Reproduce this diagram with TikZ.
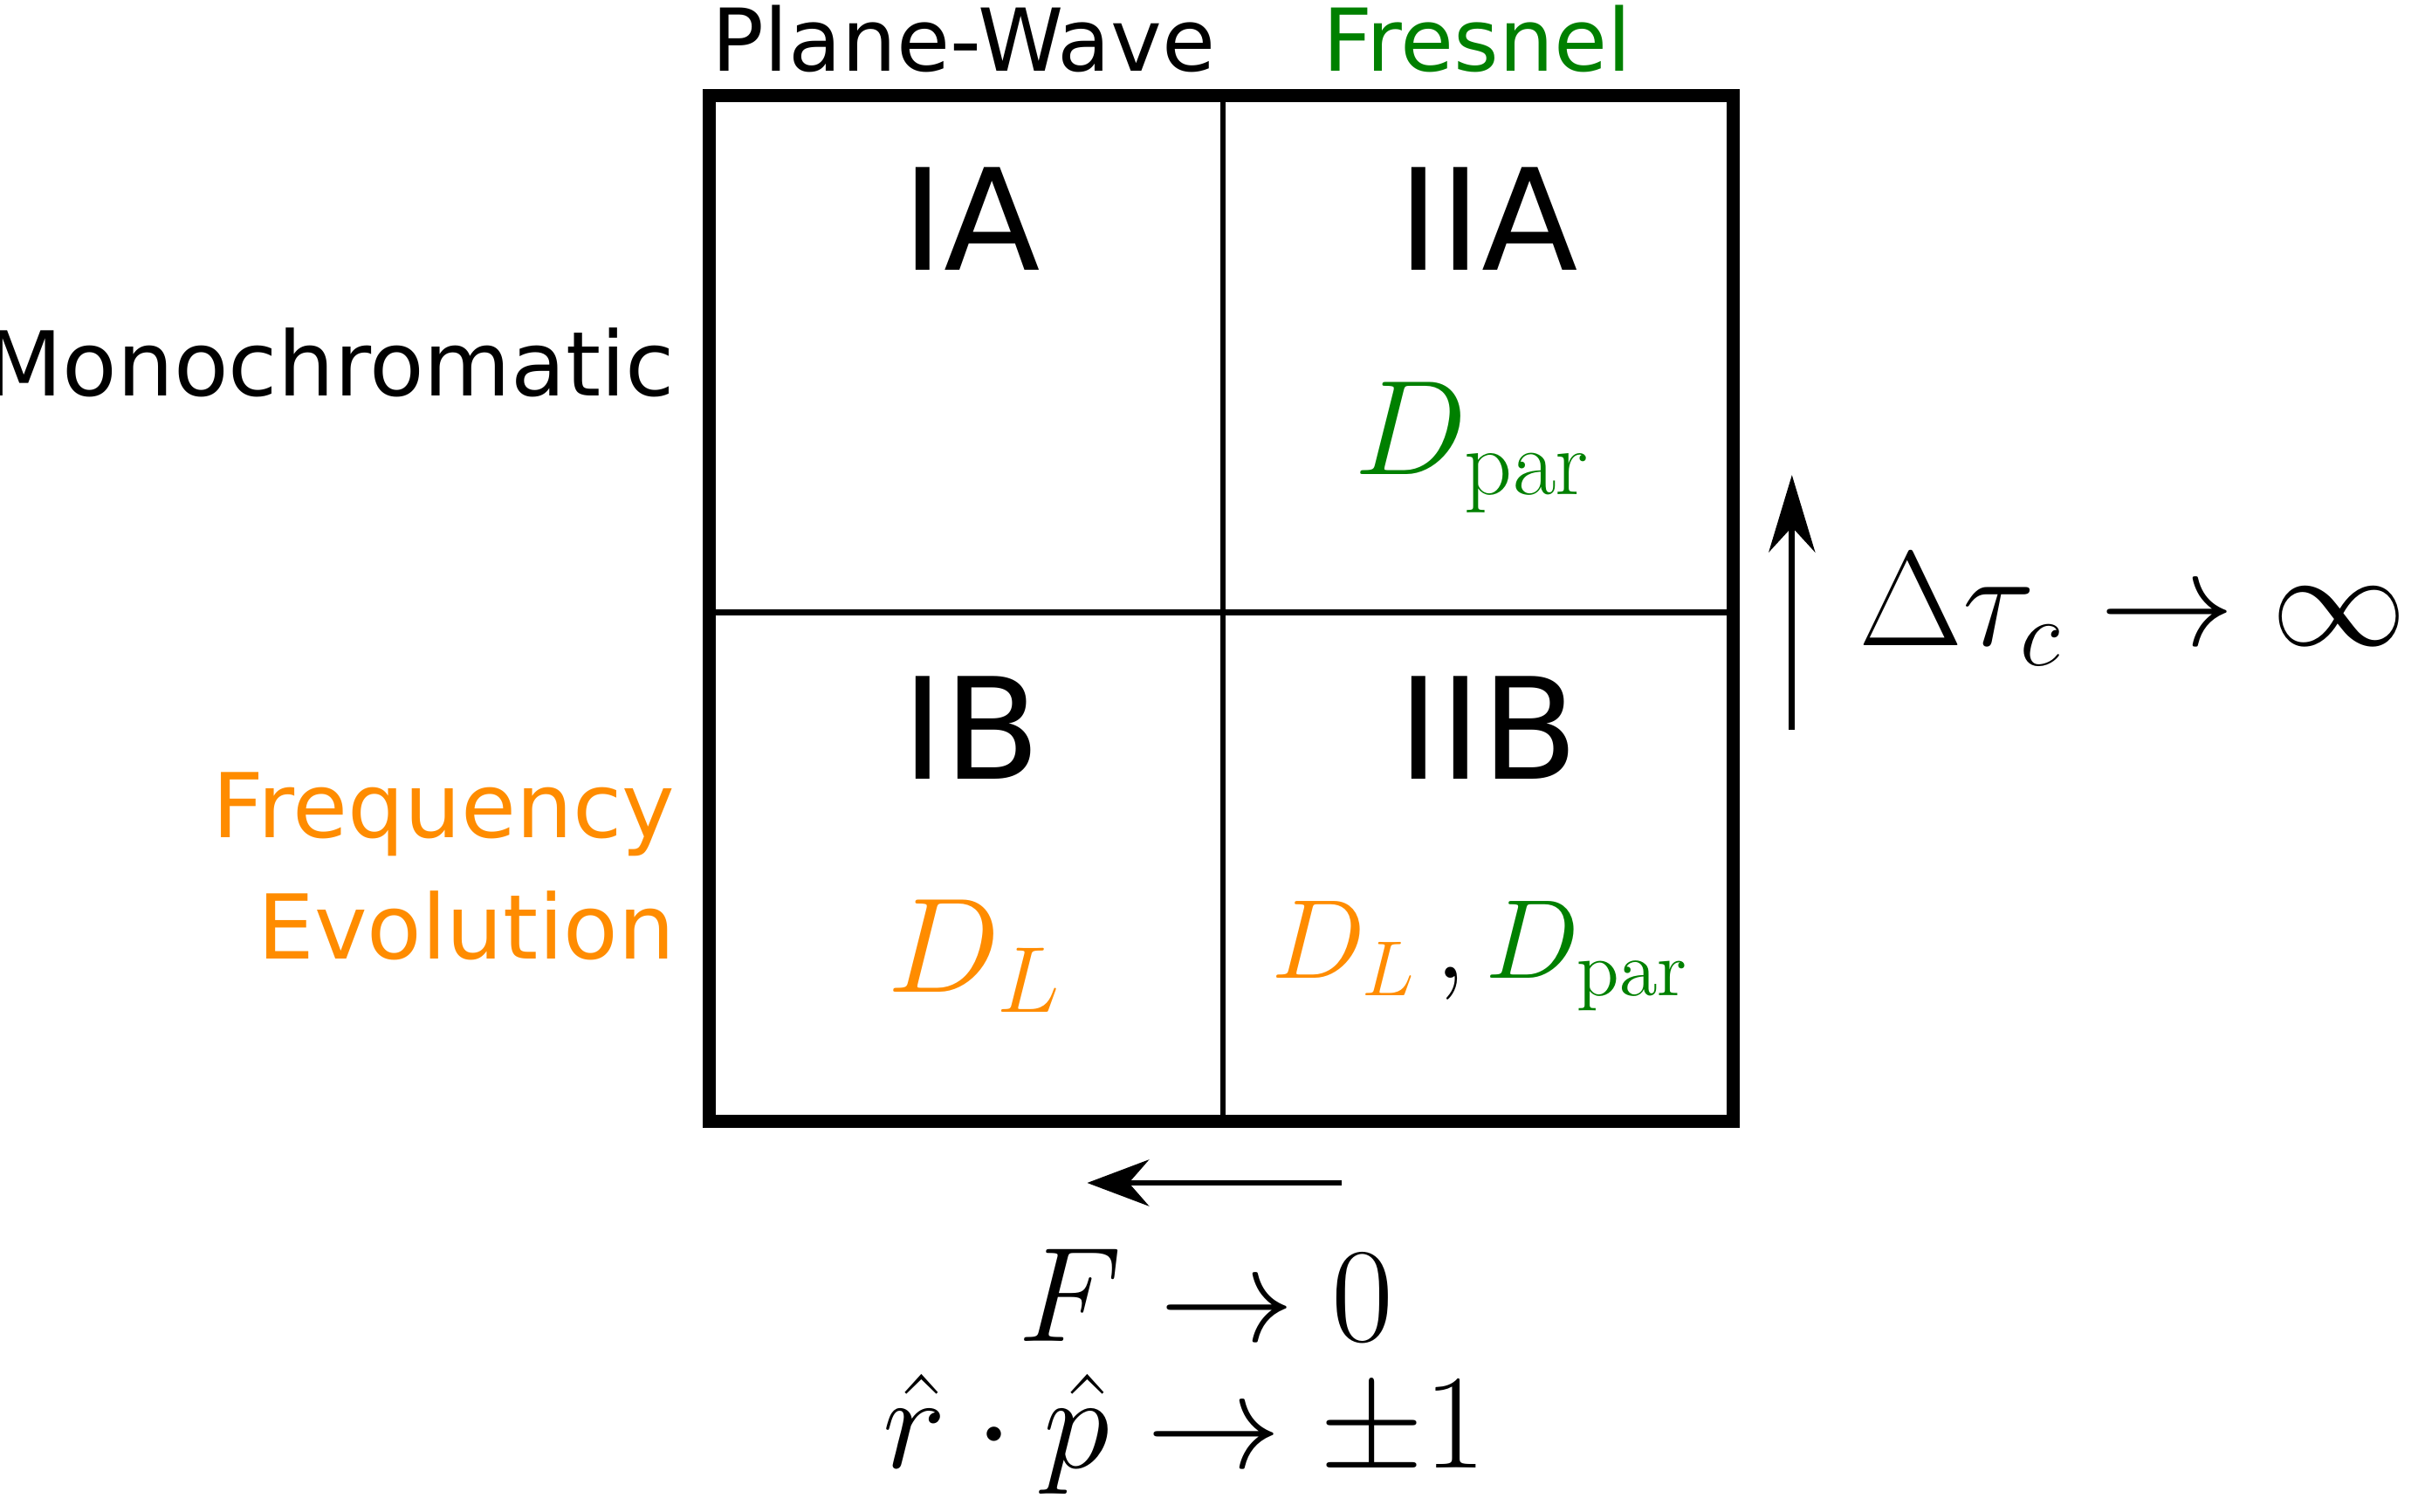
\documentclass[tikz,border=0pt]{standalone}
\usepackage[no-math]{fontspec}
\setmainfont{DejaVu Sans}
\usetikzlibrary{arrows.meta}
\definecolor{fresgreen}{RGB}{0,128,0}
\definecolor{freqorange}{RGB}{255,140,0}
\begin{document}
\begin{tikzpicture}[x=1cm,y=1cm]
		\useasboundingbox (0,0) rectangle (15.68,9.80);
		% Grid
		\draw[line width=1.1pt] (7.93,9.18) -- (7.93,2.53);
		\draw[line width=1.1pt] (4.60,5.83) -- (11.24,5.83);
		\draw[line width=2.4pt] (4.60,2.53) rectangle (11.24,9.18);
		% Quadrant labels
		\node[style={font=\fontsize{26}{30}\selectfont}] (ia) at (6.30,8.38) {IA};
		\node[style={font=\fontsize{26}{30}\selectfont}] (iia) at (9.65,8.38) {IIA};
		\node[style={font=\fontsize{26}{30}\selectfont}] (ib) at (6.30,5.08) {IB};
		\node[style={font=\fontsize{26}{30}\selectfont}] (iib) at (9.65,5.08) {IIB};
		% Headers
		\node[style={font=\fontsize{16}{18}\selectfont}] (pw) at (6.25,9.55) {Plane-Wave};
		\node[fresgreen, style={font=\fontsize{16}{18}\selectfont}] (fr) at (9.58,9.55) {Fresnel};
		\node[anchor=east, style={font=\fontsize{16.5}{18}\selectfont}] (mono) at (4.50,7.45) {Monochromatic};
		\node[anchor=east, freqorange, style={font=\fontsize{16.5}{18}\selectfont}] (freq) at (4.50,4.52) {Frequency};
		\node[anchor=east, freqorange, style={font=\fontsize{16.5}{18}\selectfont}] (evol) at (4.50,3.80) {Evolution};
		% Parameters
		\node[fresgreen, style={font=\fontsize{23}{26}\selectfont}] (dpar) at (9.55,6.90) {$D_{\mathrm{par}}$};
		\node[freqorange, style={font=\fontsize{23}{26}\selectfont}] (dl) at (6.32,3.60) {$D_L$};
		\node[style={font=\fontsize{22}{24}\selectfont}] (both) at (9.60,3.60) {$\color{freqorange}D_L\,\color{black},\color{fresgreen}D_{\mathrm{par}}$};
		% Limits
		\coordinate (ub) at (11.62,5.07);
		\coordinate (ut) at (11.62,6.72);
		\draw[-{Stealth[length=5mm,width=3mm]}, line width=1.1pt] (ub) -- (ut);
		\node[style={font=\fontsize{26}{30}\selectfont}] (tau) at (13.83,5.85) {$\Delta\tau_c\to\infty$};
		\coordinate (lr) at (8.70,2.13);
		\coordinate (ll) at (7.05,2.13);
		\draw[-{Stealth[length=4mm,width=3mm]}, line width=1.1pt] (lr) -- (ll);
		\node[style={font=\fontsize{26}{30}\selectfont}] (f0) at (7.82,1.40) {$F\to0$};
		\node[style={font=\fontsize{26}{30}\selectfont}] (rp) at (7.68,0.50) {$\hat r\cdot\hat p\to\pm1$};
\end{tikzpicture}
\end{document}
